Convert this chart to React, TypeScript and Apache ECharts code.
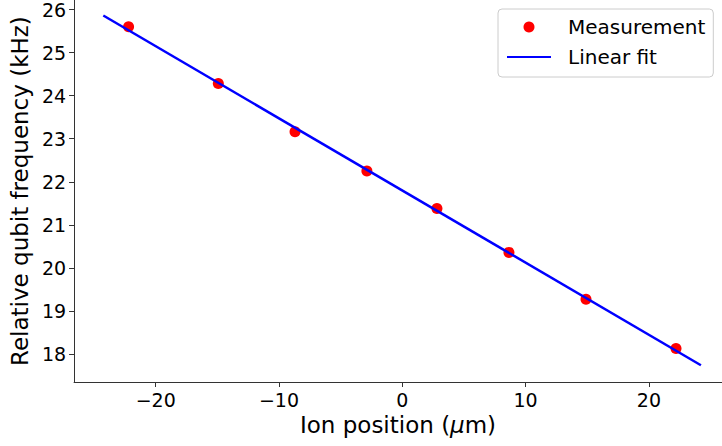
import React, { useEffect, useRef } from "react";
import * as echarts from "echarts";

const positions = [-22.2, -14.92, -8.7, -2.87, 2.81, 8.65, 14.9, 22.2];
const frequencies = [25.6, 24.28, 23.16, 22.25, 21.38, 20.36, 19.27, 18.13];
const fitX = [-24.25, 24.22];
const fitY = [25.86, 17.74];
const xTicks = [-20, -10, 0, 10, 20];
const yTicks = [18, 19, 20, 21, 22, 23, 24, 25, 26];

const FONT = "DejaVu Sans";

const fmt = (v: number) => (v < 0 ? "\u2212" + Math.abs(v) : String(v));

export default function App() {
  const ref = useRef<HTMLDivElement>(null);
  useEffect(() => {
    if (!ref.current) return;
    const chart = echarts.init(ref.current, null, { renderer: "svg" });
    chart.setOption({
      animation: false,
      backgroundColor: "#ffffff",
      textStyle: { fontFamily: FONT },
      grid: { left: 74, right: 0, top: 0, bottom: 64 },
      legend: {
        left: 498,
        top: 9,
        orient: "vertical",
        itemWidth: 44,
        itemHeight: 11,
        itemGap: 8,
        padding: [7, 8, 9, 8],
        borderColor: "#cccccc",
        borderWidth: 1,
        borderRadius: 4,
        backgroundColor: "rgba(255,255,255,0.8)",
        textStyle: {
          fontFamily: FONT,
          fontSize: 20,
          color: "#000",
          lineHeight: 22,
          padding: [0, 0, 0, 12],
        },
        data: [
          { name: "Measurement", icon: "circle" },
          { name: "Linear fit", itemStyle: { opacity: 0 } },
        ],
      },
      xAxis: {
        type: "value",
        min: -26.62,
        max: 25.93,
        name: "Ion position ({i|\u03bc}m)",
        nameLocation: "middle",
        nameGap: 24,
        nameTextStyle: {
          fontFamily: FONT,
          fontSize: 23,
          color: "#000",
          rich: { i: { fontFamily: FONT, fontSize: 23, fontStyle: "italic", color: "#000" } },
        },
        axisLine: { show: true, onZero: false, lineStyle: { color: "#333", width: 1 } },
        axisTick: { show: true, length: 5, customValues: xTicks, lineStyle: { color: "#333" } },
        axisLabel: {
          customValues: xTicks,
          formatter: fmt,
          fontFamily: FONT,
          fontSize: 19,
          color: "#000",
          margin: 8,
        },
        splitLine: { show: false },
      },
      yAxis: {
        type: "value",
        min: 17.35,
        max: 26.216,
        name: "Relative qubit frequency (kHz)",
        nameLocation: "middle",
        nameGap: 42,
        nameTextStyle: { fontFamily: FONT, fontSize: 23, color: "#000" },
        axisLine: { show: true, onZero: false, lineStyle: { color: "#333", width: 1 } },
        axisTick: { show: true, length: 5, customValues: yTicks, lineStyle: { color: "#333" } },
        axisLabel: {
          customValues: yTicks,
          formatter: fmt,
          fontFamily: FONT,
          fontSize: 19,
          color: "#000",
          margin: 8,
        },
        splitLine: { show: false },
      },
      series: [
        {
          name: "Linear fit",
          type: "line",
          data: fitX.map((x, i) => [x, fitY[i]]),
          showSymbol: false,
          symbol: "none",
          lineStyle: { color: "#0000ff", width: 2.5 },
          itemStyle: { color: "#0000ff" },
          z: 2,
        },
        {
          name: "Measurement",
          type: "scatter",
          data: positions.map((x, i) => [x, frequencies[i]]),
          symbol: "circle",
          symbolSize: 11,
          itemStyle: { color: "#ff0000", opacity: 1 },
          z: 1,
        },
      ],
    });
    return () => chart.dispose();
  }, []);
  return (
    <div
      ref={ref}
      style={{ position: "absolute", left: 0, top: 0, width: 722, height: 446 }}
    />
  );
}
